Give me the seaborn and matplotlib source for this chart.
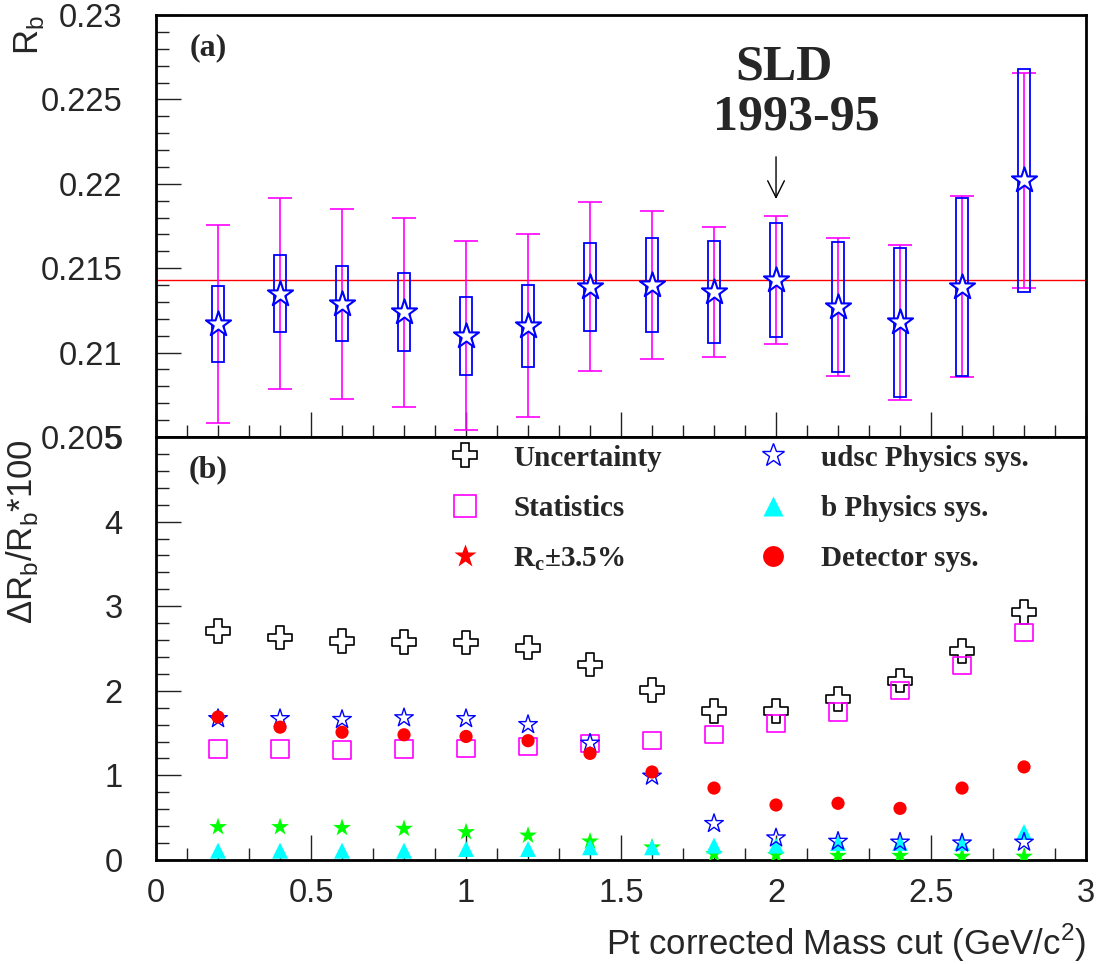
#
# Rb vs. Pt corrected mass cut (SLD 1993-95), with the breakdown of the
# relative uncertainties in the lower panel.
#

import numpy as np
import pandas as pd
import matplotlib
matplotlib.use("Agg")
import matplotlib.pyplot as plt
from matplotlib.lines import Line2D
from matplotlib.ticker import MultipleLocator
import seaborn as sns

sns.set_theme(style="ticks")
plt.rcParams['font.family'] = ['Liberation Sans', 'DejaVu Sans']
plt.rcParams['mathtext.fontset'] = 'custom'
plt.rcParams['mathtext.rm'] = 'Liberation Serif:bold'
plt.rcParams['mathtext.sf'] = 'Liberation Sans'

# mass cut values (GeV/c^2)
mass_cut = [0.2, 0.4, 0.6, 0.8, 1.0, 1.2, 1.4, 1.6, 1.8, 2.0, 2.2, 2.4, 2.6, 2.8]

# panel (a): Rb, box half height (blue), error bar half height (magenta)
rb = [0.2117, 0.2135, 0.2129, 0.2124, 0.2110, 0.2116, 0.2139,
      0.2140, 0.2136, 0.2143, 0.2127, 0.2118, 0.2139, 0.2202]
rb_box = [0.00226, 0.00227, 0.00223, 0.00229, 0.00232, 0.00243, 0.00260,
          0.00278, 0.00304, 0.00340, 0.00385, 0.00441, 0.00527, 0.00660]
rb_err = [0.00586, 0.00568, 0.00562, 0.00560, 0.00560, 0.00543, 0.00500,
          0.00438, 0.00384, 0.00379, 0.00410, 0.00458, 0.00535, 0.00636]
rb_ref = 0.2143

# panel (b): relative uncertainties, dRb/Rb*100
uncertainty = [2.71, 2.63, 2.59, 2.58, 2.57, 2.51, 2.31, 2.01, 1.76, 1.76, 1.90, 2.12, 2.47, 2.93]
statistics = [1.31, 1.31, 1.30, 1.31, 1.32, 1.34, 1.38, 1.41, 1.48, 1.61, 1.75, 2.00, 2.30, 2.69]
udsc_sys = [1.67, 1.67, 1.66, 1.68, 1.67, 1.60, 1.38, 0.99, 0.43, 0.26, 0.22, 0.21, 0.20, 0.21]
b_sys = [0.11, 0.11, 0.11, 0.11, 0.13, 0.13, 0.15, 0.15, 0.17, 0.17, 0.20, 0.20, 0.20, 0.33]
rc_sys = [0.39, 0.39, 0.38, 0.37, 0.33, 0.29, 0.22, 0.15, 0.07, 0.06, 0.05, 0.05, 0.04, 0.04]
detector_sys = [1.69, 1.57, 1.51, 1.48, 1.46, 1.41, 1.26, 1.04, 0.85, 0.65, 0.67, 0.61, 0.85, 1.10]

df = pd.DataFrame({"cut": mass_cut, "rb": rb, "box": rb_box, "err": rb_err,
                   "unc": uncertainty, "stat": statistics, "udsc": udsc_sys,
                   "bphys": b_sys, "rc": rc_sys, "det": detector_sys})

fig = plt.figure(figsize=(11.02, 9.64), dpi=100)
ax1 = fig.add_axes([0.1416, 0.5467, 0.8439, 0.4377])
ax2 = fig.add_axes([0.1416, 0.1079, 0.8439, 0.4388])

# ---- panel (a)
ax1.axhline(rb_ref, color="#FF0000", lw=1, zorder=1)
ax1.errorbar(df["cut"], df["rb"], yerr=df["err"], fmt="none", ecolor="#FF00FF",
             elinewidth=1.2, capsize=8.5, capthick=1.2, zorder=2)
ax1.bar(df["cut"], 2 * df["box"], bottom=df["rb"] - df["box"], width=0.041,
        fill=False, edgecolor="#0000FF", linewidth=1.3, zorder=3)
sns.scatterplot(data=df, x="cut", y="rb", marker="*", s=19**2, color="white",
                edgecolor="#0000FF", linewidth=1.5, zorder=4, ax=ax1)
ax1.annotate("", xy=(2.0, 0.2191), xytext=(2.0, 0.2216),
             arrowprops=dict(arrowstyle="->", lw=1, color="black",
                             mutation_scale=30, shrinkA=0, shrinkB=0))
ax1.text(0.675, 0.876, "SLD", transform=ax1.transAxes, ha="center", va="center",
         family="Liberation Serif", weight="bold", fontsize=36)
ax1.text(0.689, 0.757, "1993-95", transform=ax1.transAxes, ha="center", va="center",
         family="Liberation Serif", weight="bold", fontsize=36)
ax1.text(0.056, 0.922, "(a)", transform=ax1.transAxes, ha="center", va="center",
         family="Liberation Serif", weight="bold", fontsize=23)
ax1.set_xlim(0, 3)
ax1.set_ylim(0.205, 0.23)
ax1.yaxis.set_major_locator(MultipleLocator(0.005))
ax1.yaxis.set_minor_locator(MultipleLocator(0.001))
ax1.set_yticks([0.205, 0.21, 0.215, 0.22, 0.225, 0.23])
ax1.set_yticklabels(["0.205", "0.21", "0.215", "0.22", "0.225", "0.23"])
ax1.tick_params(labelbottom=False)
ax1.set_xlabel("")
ax1.set_ylabel("R$_\\mathsf{b}$", fontsize=25, loc="top")
ax1.yaxis.set_label_coords(-0.118, 1.0)

# ---- panel (b)
sns.scatterplot(data=df, x="cut", y="unc", marker="P", s=17**2, facecolor="none",
                edgecolor="black", linewidth=1.2, zorder=3, ax=ax2)
sns.scatterplot(data=df, x="cut", y="stat", marker="s", s=12.5**2, facecolor="none",
                edgecolor="#FF00FF", linewidth=1.2, zorder=3, ax=ax2)
sns.scatterplot(data=df, x="cut", y="rc", marker="*", s=13.5**2, color="#00FF00",
                edgecolor="none", linewidth=0, zorder=3, ax=ax2)
sns.scatterplot(data=df, x="cut", y="bphys", marker="^", s=11.5**2, color="#00FFFF",
                edgecolor="none", linewidth=0, zorder=3, ax=ax2)
sns.scatterplot(data=df, x="cut", y="udsc", marker="*", s=14**2, facecolor="none",
                edgecolor="#0000FF", linewidth=1.0, zorder=3, ax=ax2)
sns.scatterplot(data=df, x="cut", y="det", marker="o", s=9.5**2, color="#FF0000",
                edgecolor="none", linewidth=0, zorder=3, ax=ax2)
ax2.text(0.056, 0.922, "(b)", transform=ax2.transAxes, ha="center", va="center",
         family="Liberation Serif", weight="bold", fontsize=23)

handles = [
    Line2D([], [], ls="", marker="P", ms=17, mfc="none", mec="black", mew=1.2),
    Line2D([], [], ls="", marker="s", ms=16, mfc="none", mec="#FF00FF", mew=1.2),
    Line2D([], [], ls="", marker="*", ms=17, mfc="#FF0000", mec="none"),
    Line2D([], [], ls="", marker="*", ms=17, mfc="none", mec="#0000FF", mew=1.0),
    Line2D([], [], ls="", marker="^", ms=15, mfc="#00FFFF", mec="none"),
    Line2D([], [], ls="", marker="o", ms=15, mfc="#FF0000", mec="none"),
]
labels = ["Uncertainty", "Statistics", "R$_\\mathrm{c}$\u00b13.5%",
          "udsc Physics sys.", "b Physics sys.", "Detector sys."]
ax2.legend(handles, labels, ncol=2, loc="upper left", bbox_to_anchor=(0.317, 0.982),
           frameon=False, borderpad=0, borderaxespad=0, handlelength=1.0,
           handletextpad=1.14, columnspacing=3.3, labelspacing=0.8,
           prop={"family": "Liberation Serif", "weight": "bold", "size": 21})

ax2.set_xlim(0, 3)
ax2.set_ylim(0, 5)
ax2.yaxis.set_major_locator(MultipleLocator(1))
ax2.yaxis.set_minor_locator(MultipleLocator(0.2))
ax2.set_yticks([0, 1, 2, 3, 4, 5])
ax2.set_yticklabels(["0", "1", "2", "3", "4", "5"])
ax2.set_xticks([0, 0.5, 1, 1.5, 2, 2.5, 3])
ax2.set_xticklabels(["0", "0.5", "1", "1.5", "2", "2.5", "3"])
ax2.set_xlabel("Pt corrected Mass cut (GeV/c$^\\mathsf{2}$)", fontsize=25, loc="right")
ax2.xaxis.set_label_coords(1.0, -0.145)
ax2.xaxis.label.set_va("top")
ax2.set_ylabel("\u0394R$_\\mathsf{b}$/R$_\\mathsf{b}$*100", fontsize=25, loc="top")
ax2.yaxis.set_label_coords(-0.125, 0.995)

for ax in (ax1, ax2):
    ax.xaxis.set_minor_locator(MultipleLocator(0.1))
    ax.tick_params(which="both", direction="in", top=False, right=False,
                   width=1, color="#222222", labelsize=23.5)
    ax.tick_params(which="major", length=18)
    ax.tick_params(which="minor", length=9)
    ax.tick_params(axis="y", which="both", pad=24)
    ax.tick_params(axis="x", which="both", pad=13)
    for sp in ax.spines.values():
        sp.set_linewidth(2)
        sp.set_color("black")
    ax.set_facecolor("white")

fig.savefig("out.png", dpi=100, facecolor="white")
